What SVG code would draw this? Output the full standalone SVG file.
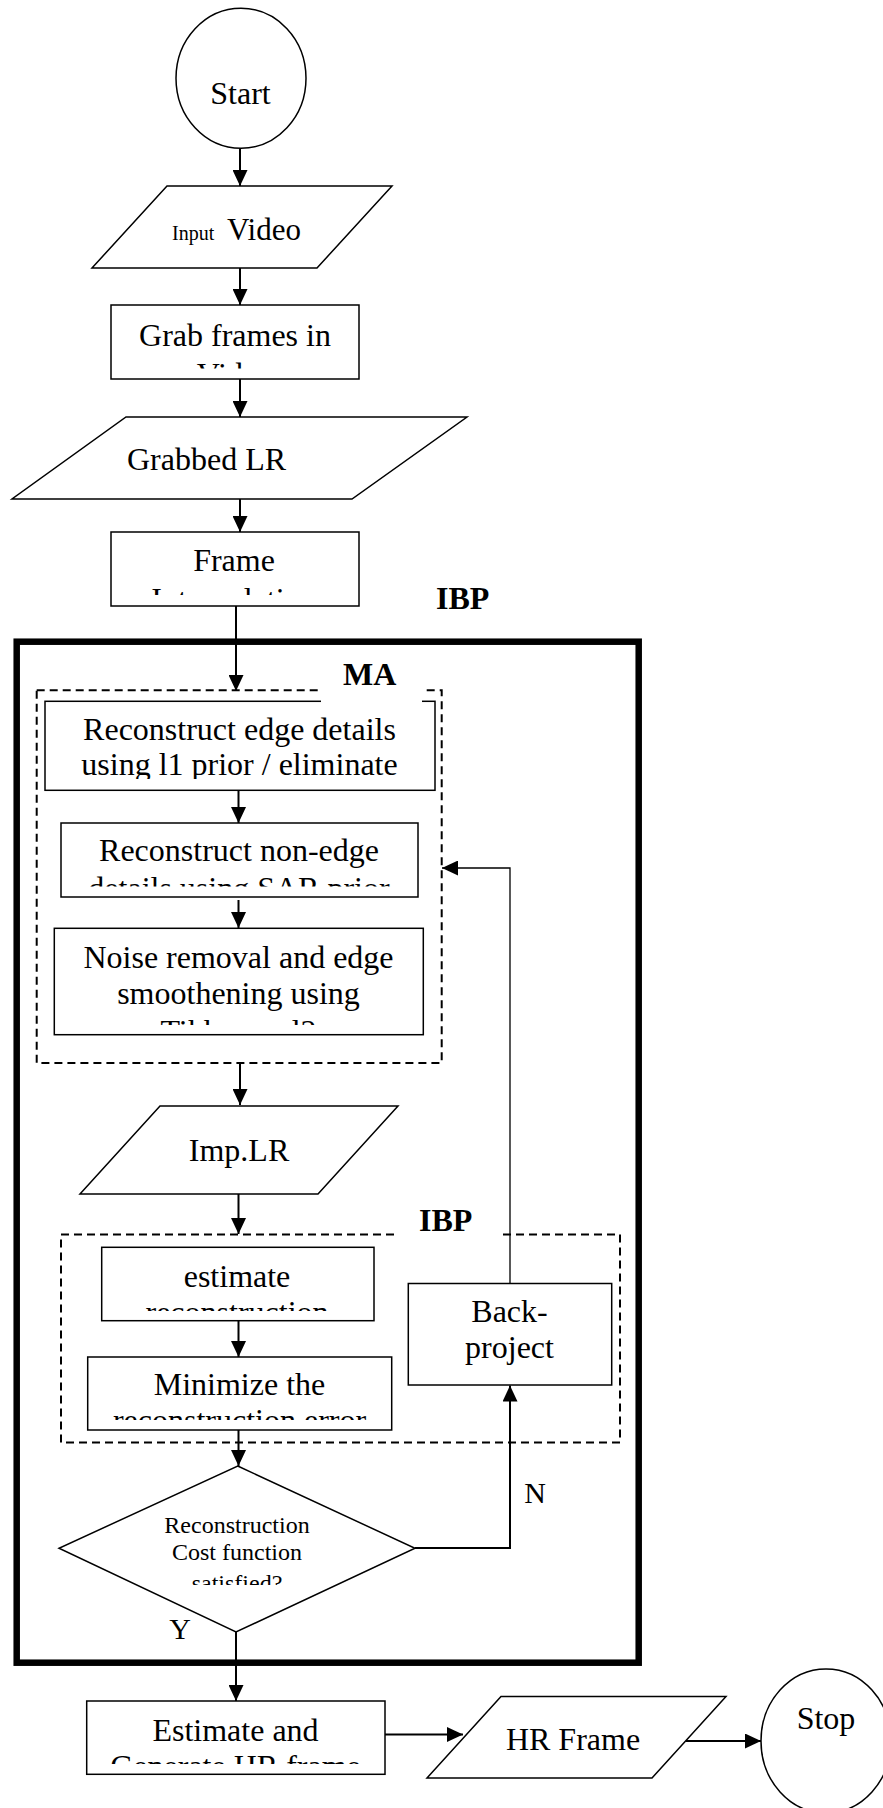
<svg xmlns="http://www.w3.org/2000/svg" width="883" height="1808" viewBox="0 0 883 1808">
<style>
.shape{fill:#fff;stroke:#000;stroke-width:1.5}
.dash{fill:none;stroke:#000;stroke-width:2;stroke-dasharray:8 5}
.t{font-family:"Liberation Serif","Times New Roman",serif;font-size:32px;fill:#000;text-anchor:middle}
.tb{font-family:"Liberation Serif","Times New Roman",serif;font-size:32px;font-weight:bold;fill:#000}
.d{font-size:24px}
.conn{fill:none;stroke:#000;stroke-width:2;marker-end:url(#arr)}
.thin{stroke-width:1.3}
</style>
<defs>
<marker id="arr" markerUnits="userSpaceOnUse" markerWidth="16" markerHeight="15" refX="16" refY="7.5" orient="auto">
<path d="M0,0 L16,7.5 L0,15 Z" fill="#000"/>
</marker>
<clipPath id="cpGrab"><rect x="111" y="305" width="248" height="63.5"/></clipPath>
<clipPath id="cpFrame"><rect x="111" y="532" width="248" height="63"/></clipPath>
<clipPath id="cpEdge"><rect x="45" y="701" width="390" height="78"/></clipPath>
<clipPath id="cpNon"><rect x="61" y="823" width="357" height="63.5"/></clipPath>
<clipPath id="cpNoise"><rect x="54" y="928" width="369" height="97"/></clipPath>
<clipPath id="cpEst"><rect x="102" y="1247" width="272" height="64"/></clipPath>
<clipPath id="cpMin"><rect x="88" y="1357" width="304" height="63"/></clipPath>
<clipPath id="cpDia"><rect x="100" y="1500" width="280" height="85"/></clipPath>
<clipPath id="cpGen"><rect x="87" y="1701" width="298" height="63"/></clipPath>
</defs>
<rect width="883" height="1808" fill="#fff"/>

<g id="ibp-outer">
<rect x="16.7" y="641.7" width="622" height="1021" fill="none" stroke="#000" stroke-width="6.5"/>
<text class="tb" x="436" y="609">IBP</text>
</g>

<g id="ma-group">
<rect class="dash" x="36.7" y="690.3" width="405" height="372.7"/>
</g>

<g id="ibp-inner">
<rect class="dash" x="61" y="1234.5" width="559" height="208"/>
<rect x="397" y="1205" width="102" height="32" fill="#fff"/>
<text class="tb" x="419" y="1231">IBP</text>
</g>

<g id="start">
<ellipse class="shape" cx="241" cy="78.3" rx="65" ry="70"/>
<text class="t" x="240.5" y="104">Start</text>
</g>

<g id="input-video">
<polygon class="shape" points="167,186 392,186 317,268 92,268"/>
<text x="172" y="239.5" style="font-family:'Liberation Serif','Times New Roman',serif;fill:#000"><tspan font-size="20">Input</tspan><tspan x="227" font-size="31">Video</tspan></text>
</g>

<g id="grab-frames">
<rect class="shape" x="111" y="305" width="248" height="74"/>
<g clip-path="url(#cpGrab)">
<text class="t" x="235" y="345.7">Grab frames in</text>
<text class="t" x="235" y="385">Video</text>
</g>
</g>

<g id="grabbed-lr">
<polygon class="shape" points="126,417 467,417 352,499 12,499"/>
<text class="t" x="127" y="470" style="text-anchor:start">Grabbed LR</text>
</g>

<g id="frame-interp">
<rect class="shape" x="111" y="532" width="248" height="74"/>
<g clip-path="url(#cpFrame)">
<text class="t" x="234" y="571.3">Frame</text>
<text class="t" x="234" y="610">Interpolation</text>
</g>
</g>

<g id="edge">
<rect class="shape" x="45" y="701.3" width="390" height="89"/>
<g clip-path="url(#cpEdge)">
<text class="t" x="239.5" y="740.3">Reconstruct edge details</text>
<text class="t" x="239.5" y="775.3">using l1 prior / eliminate</text>
</g>
</g>

<g id="ma-label">
<rect x="321" y="648" width="101" height="55" fill="#fff"/>
<text class="tb" x="343" y="685.3">MA</text>
</g>

<g id="non-edge">
<rect class="shape" x="61" y="823" width="357" height="74"/>
<g clip-path="url(#cpNon)">
<text class="t" x="239" y="861.3">Reconstruct non-edge</text>
<text class="t" x="239" y="899">details using SAR prior</text>
</g>
</g>

<g id="noise">
<rect class="shape" x="54.3" y="928.3" width="369" height="106.4"/>
<g clip-path="url(#cpNoise)">
<text class="t" x="238.5" y="968.3">Noise removal and edge</text>
<text class="t" x="238.5" y="1004">smoothening using</text>
<text class="t" x="238.5" y="1041.8">Tikhonov l2</text>
</g>
</g>

<g id="imp-lr">
<polygon class="shape" points="160,1106 398,1106 318,1194 80,1194"/>
<text class="t" x="239" y="1160.7">Imp.LR</text>
</g>

<g id="estimate">
<rect class="shape" x="101.7" y="1247.3" width="272.3" height="73.4"/>
<g clip-path="url(#cpEst)">
<text class="t" x="237" y="1287.3">estimate</text>
<text class="t" x="237" y="1323">reconstruction</text>
</g>
</g>

<g id="minimize">
<rect class="shape" x="87.7" y="1357" width="304" height="73"/>
<g clip-path="url(#cpMin)">
<text class="t" x="239.5" y="1395.3">Minimize the</text>
<text class="t" x="239.5" y="1430.5">reconstruction error</text>
</g>
</g>

<g id="back-project">
<rect class="shape" x="408.3" y="1283.5" width="203.4" height="101.5"/>
<text class="t" x="509.5" y="1322">Back-</text>
<text class="t" x="509.5" y="1358">project</text>
</g>

<g id="decision">
<polygon class="shape" points="237.7,1466 415,1548.3 236,1632 59,1548.3"/>
<g clip-path="url(#cpDia)">
<text class="t d" x="237" y="1533.3">Reconstruction</text>
<text class="t d" x="237" y="1560">Cost function</text>
<text class="t d" x="237" y="1591">satisfied?</text>
</g>
</g>

<g id="estimate-hr">
<rect class="shape" x="86.7" y="1701" width="298.3" height="73.3"/>
<g clip-path="url(#cpGen)">
<text class="t" x="235.5" y="1741">Estimate and</text>
<text class="t" x="235.5" y="1777">Generate HR frame</text>
</g>
</g>

<g id="hr-frame">
<polygon class="shape" points="501,1696.5 726,1696.5 652,1778 427,1778"/>
<text class="t" x="573" y="1749.5">HR Frame</text>
</g>

<g id="stop">
<ellipse class="shape" cx="826" cy="1741" rx="65" ry="72"/>
<text class="t" x="826" y="1728.5">Stop</text>
</g>

<g id="connectors">
<line class="conn" x1="240" y1="148.5" x2="240" y2="186"/>
<line class="conn" x1="240" y1="268" x2="240" y2="305"/>
<line class="conn" x1="240" y1="379" x2="240" y2="417"/>
<line class="conn" x1="240" y1="499" x2="240" y2="532"/>
<line class="conn" x1="236" y1="606" x2="236" y2="691"/>
<line class="conn" x1="238.5" y1="790.3" x2="238.5" y2="823"/>
<line class="conn" x1="238.5" y1="900" x2="238.5" y2="928"/>
<line class="conn" x1="240" y1="1063" x2="240" y2="1105"/>
<line class="conn" x1="238.5" y1="1194" x2="238.5" y2="1234"/>
<line class="conn" x1="238.5" y1="1320.7" x2="238.5" y2="1357"/>
<line class="conn" x1="238.5" y1="1430" x2="238.5" y2="1466"/>
<polyline class="conn" points="415,1548 510,1548 510,1385.5"/>
<polyline class="conn thin" points="510,1283.5 510,868 442,868"/>
<line class="conn" x1="236" y1="1632" x2="236" y2="1701"/>
<line class="conn" x1="385" y1="1734.5" x2="463" y2="1734.5"/>
<line class="conn" x1="686" y1="1741" x2="761" y2="1741"/>
<text class="t" x="180" y="1639.3" style="font-size:30px">Y</text>
<text class="t" x="535" y="1502.7" style="font-size:30px">N</text>
</g>
</svg>
